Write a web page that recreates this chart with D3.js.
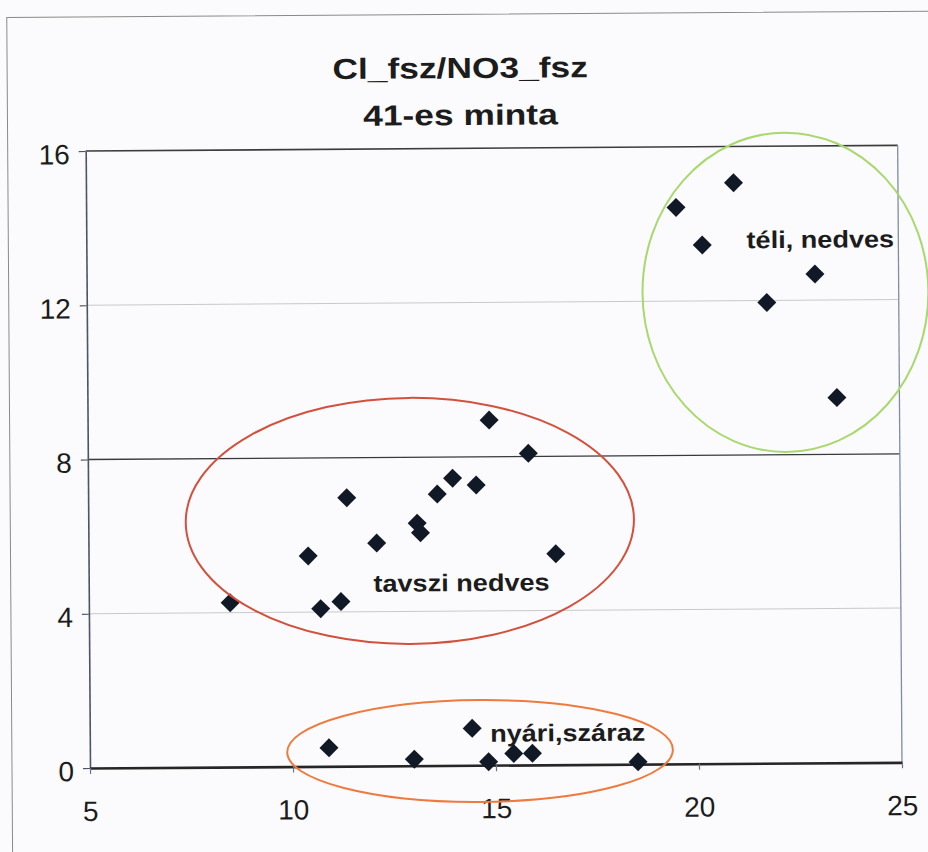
<!DOCTYPE html>
<html>
<head>
<meta charset="utf-8">
<script src="https://cdn.jsdelivr.net/npm/d3@7"></script>
<style>
  html, body { margin: 0; padding: 0; background: #fbfbfd; }
  svg { display: block; }
  text { font-family: "Liberation Sans", Arial, sans-serif; fill: #1c1c1c; }
</style>
</head>
<body>
<svg id="chart" width="928" height="852"></svg>
<script>
// Cl_fsz (x) vs NO3_fsz (y), sample 41 — three seasonal groups
const springX = [8.48, 10.41, 10.71, 11.21, 11.37, 12.10, 13.10, 13.18, 13.60, 13.98, 14.56, 14.89, 15.85, 16.51];
const springY = [4.26, 5.46, 4.09, 4.27, 6.96, 5.78, 6.29, 6.04, 7.04, 7.45, 7.27, 8.95, 8.08, 5.47];

const winterX = [20.95, 19.53, 20.17, 22.94, 21.75, 23.46];
const winterY = [15.06, 14.43, 13.45, 12.68, 11.95, 9.47];

const summerX = [10.89, 12.99, 14.42, 14.82, 15.44, 15.90, 18.50];
const summerY = [0.48, 0.17, 0.96, 0.09, 0.30, 0.30, 0.06];

const xTicks = [5, 10, 15, 20, 25];
const yTicks = [0, 4, 8, 12, 16];
const titleLines = ["Cl_fsz/NO3_fsz", "41-es minta"];

// group outlines (centre and radii in data units) and their captions
const groupNames  = ["téli, nedves", "tavszi nedves", "nyári,száraz"];
const groupColors = ["#a9d86e", "#d2503c", "#ee7a3e"];
const ellipseCX = [22.21, 12.92, 14.61];
const ellipseCY = [12.21, 6.35, 0.37];
const ellipseRX = [3.52, 5.52, 4.75];
const ellipseRY = [4.14, 3.19, 1.32];
const captionX = [21.26, 12.01, 14.86];
const captionY = [13.36, 4.52, 0.61];

const svg = d3.select("#chart");
const W = 928, H = 852;
const plot = { left: 90, right: 902, top: 151, bottom: 768 };

// the whole sheet sits very slightly askew
const g = svg.append("g").attr("transform", `rotate(-0.4, ${plot.left}, ${plot.bottom})`);

const x = d3.scaleLinear().domain([5, 25]).range([plot.left, plot.right]);
const y = d3.scaleLinear().domain([0, 16]).range([plot.bottom, plot.top]);

// chart frame
g.append("rect")
  .attr("x", 12).attr("y", 17).attr("width", 940).attr("height", 880)
  .attr("fill", "none").attr("stroke", "#8a8a8a").attr("stroke-width", 1);

// title
titleLines.forEach((t, i) => {
  g.append("text")
    .attr("transform", `translate(465, ${80.6 + i * 47}) scale(1.22, 1)`)
    .attr("text-anchor", "middle")
    .attr("font-size", 29).attr("font-weight", "bold")
    .text(t);
});

// horizontal gridlines
const gridStyle = { 4: ["#c9c9cc", 1], 8: ["#3a3a3a", 1.3], 12: ["#c9c9cc", 1], 16: ["#3c3c3c", 1.6] };
g.append("g").selectAll("line")
  .data(yTicks.filter(v => v > 0))
  .join("line")
  .attr("x1", plot.left).attr("x2", plot.right)
  .attr("y1", d => y(d)).attr("y2", d => y(d))
  .attr("stroke", d => gridStyle[d][0])
  .attr("stroke-width", d => gridStyle[d][1]);

// right edge of plot area
g.append("line")
  .attr("x1", plot.right).attr("x2", plot.right)
  .attr("y1", plot.top).attr("y2", plot.bottom)
  .attr("stroke", "#7f8da3").attr("stroke-width", 1.3);

// y axis
const yAxis = g.append("g")
  .attr("transform", `translate(${plot.left},0)`)
  .call(d3.axisLeft(y).tickValues(yTicks).tickSize(7).tickSizeOuter(0).tickPadding(9));
yAxis.select(".domain").attr("stroke", "#4d5466").attr("stroke-width", 1.6);
yAxis.selectAll(".tick line").attr("stroke", "#4d5466").attr("stroke-width", 1.2);
yAxis.selectAll(".tick text")
  .attr("font-size", 28).attr("font-family", "Liberation Sans, Arial, sans-serif")
  .attr("fill", "#1c1c1c").attr("dy", "0.45em");

// x axis
const xAxis = g.append("g")
  .attr("transform", `translate(0,${plot.bottom})`)
  .call(d3.axisBottom(x).tickValues(xTicks).tickSize(6).tickSizeOuter(0).tickPadding(27));
xAxis.select(".domain").attr("stroke", "#262626").attr("stroke-width", 2.6);
xAxis.selectAll(".tick line").attr("stroke", "#6b7488").attr("stroke-width", 1.2);
xAxis.selectAll(".tick text")
  .attr("font-size", 28).attr("font-family", "Liberation Sans, Arial, sans-serif")
  .attr("fill", "#1c1c1c");

// data points
const points = [
  ...springX.map((v, i) => ({ x: v, y: springY[i] })),
  ...winterX.map((v, i) => ({ x: v, y: winterY[i] })),
  ...summerX.map((v, i) => ({ x: v, y: summerY[i] }))
];
const r = 9.5;
g.append("g").selectAll("path")
  .data(points)
  .join("path")
  .attr("transform", d => `translate(${x(d.x)},${y(d.y)})`)
  .attr("d", `M0,${-r}L${r},0L0,${r}L${-r},0Z`)
  .attr("fill", "#111826");

// group outlines
g.append("g").selectAll("ellipse")
  .data(groupNames.map((n, i) => i))
  .join("ellipse")
  .attr("cx", i => x(ellipseCX[i]))
  .attr("cy", i => y(ellipseCY[i]))
  .attr("rx", i => x(ellipseCX[i] + ellipseRX[i]) - x(ellipseCX[i]))
  .attr("ry", i => y(ellipseCY[i]) - y(ellipseCY[i] + ellipseRY[i]))
  .attr("fill", "none")
  .attr("stroke", i => groupColors[i])
  .attr("stroke-width", 2);

// group captions
g.append("g").selectAll("text")
  .data(groupNames)
  .join("text")
  .attr("transform", (d, i) => `translate(${x(captionX[i])},${y(captionY[i])}) scale(1.13, 1)`)
  .attr("font-size", 24).attr("font-weight", "bold")
  .attr("fill", "#222")
  .text(d => d);
</script>
</body>
</html>
